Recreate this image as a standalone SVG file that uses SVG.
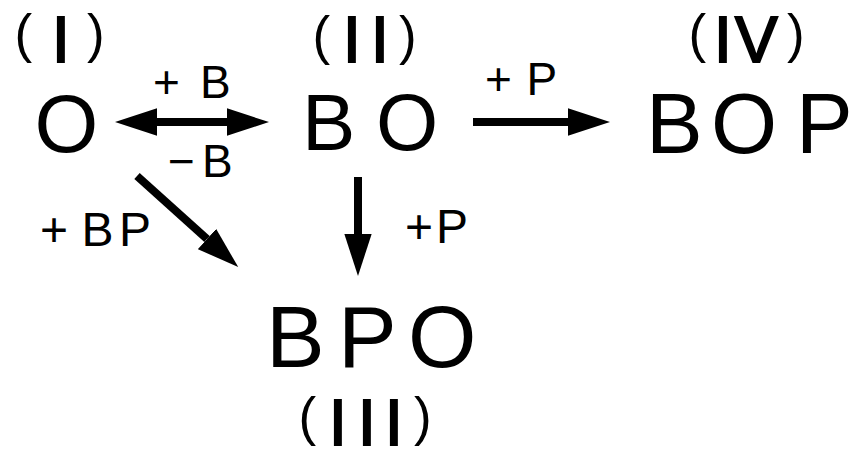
<svg xmlns="http://www.w3.org/2000/svg" width="855" height="452" viewBox="0 0 855 452">
<defs>
<marker id="ah" markerUnits="userSpaceOnUse" markerWidth="42" markerHeight="28" viewBox="0 0 40 26" refX="0" refY="13" orient="auto-start-reverse">
<path d="M0,0 L40,13 L0,26 z" fill="#000"/>
</marker>
<style>
text{font-family:"Liberation Sans",Arial,Helvetica,sans-serif;fill:#000}
.num{font-size:53px}
.rn{font-size:64px;stroke:#000;stroke-width:2}
.lab{font-size:46px}
.conn{stroke:#000;stroke-width:8;fill:none}
</style>
</defs>
<rect width="855" height="452" fill="#fff"/>
<g id="connectors">
<path class="conn" d="M157,122 L227,122" marker-start="url(#ah)" marker-end="url(#ah)"/>
<path class="conn" d="M473,122 L568,122" marker-end="url(#ah)"/>
<path class="conn" d="M358,177 L358,234" marker-end="url(#ah)"/>
<path class="conn" d="M137,176 L207,239" marker-end="url(#ah)"/>
</g>
<g id="node-I">
<text class="num" y="52"><tspan x="14.5">(</tspan><tspan class="rn" x="52" y="62">I</tspan><tspan x="87" y="52">)</tspan></text>
<text x="34.5" y="152" style="font-size:82px">O</text>
</g>
<g id="node-II">
<text class="num" y="54"><tspan x="312.5">(</tspan><tspan class="rn" x="343 371" y="62">II</tspan><tspan x="399" y="54">)</tspan></text>
<text x="302 376" y="150" style="font-size:80px">BO</text>
</g>
<g id="node-IV">
<text class="num" y="52"><tspan x="688.5">(</tspan><tspan class="rn" x="714 735" y="62">IV</tspan><tspan x="787" y="52">)</tspan></text>
<text x="646 711 796" y="153" style="font-size:85px">BOP</text>
</g>
<g id="node-III">
<text x="266 338 408" y="367" style="font-size:88px">BPO</text>
<text class="num" y="435"><tspan x="298.5">(</tspan><tspan class="rn" x="329 358 385" y="445">III</tspan><tspan x="414" y="435">)</tspan></text>
</g>
<g id="labels">
<text class="lab" x="153 200" y="98">+B</text>
<text class="lab" x="168 202" y="177">−B</text>
<text class="lab" x="485 526.5" y="95">+P</text>
<text class="lab" x="40 81.5 119" y="246" style="font-size:48px">+BP</text>
<text class="lab" x="405 436" y="243" style="font-size:48px">+P</text>
</g>
</svg>
